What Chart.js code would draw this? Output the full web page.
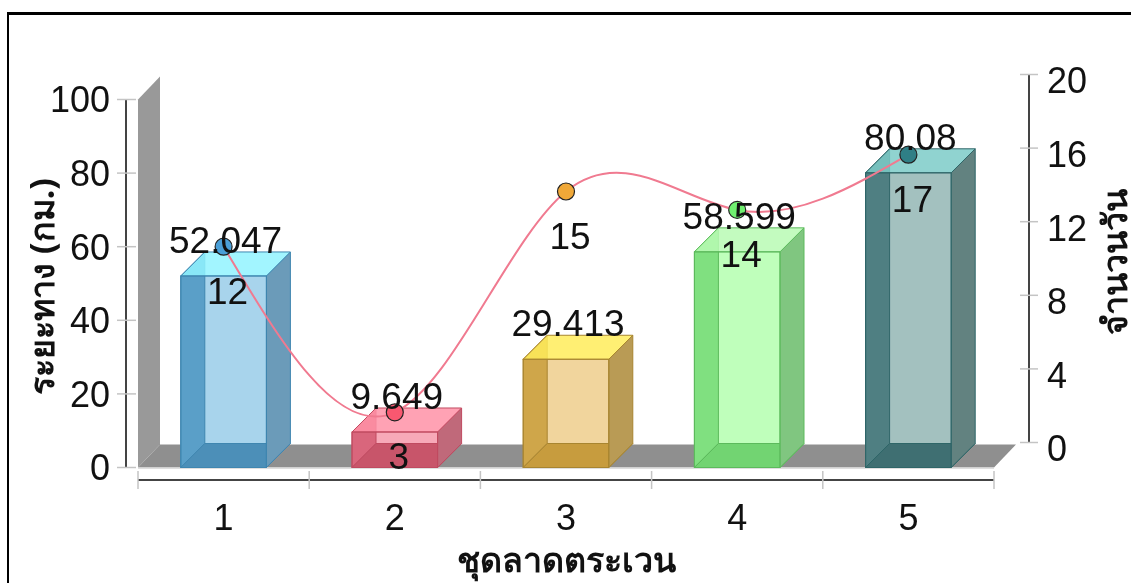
<!DOCTYPE html>
<html>
<head>
<meta charset="utf-8">
<script src="https://cdn.jsdelivr.net/npm/chart.js@4"></script>
<style>
html, body { margin: 0; padding: 0; background: #fff; overflow: hidden; }
#wrap { position: relative; width: 1131px; height: 583px; }
#frame { position: absolute; left: 7px; top: 12px; right: 0; bottom: -5px; border: 2px solid #000; border-top-width: 3px; border-right: 0; border-bottom: 0; }
canvas { position: absolute; left: 0; top: 0; }
</style>
</head>
<body>
<div id="wrap">
<div id="frame"></div>
<canvas id="chart" width="1131" height="583"></canvas>
</div>
<script>
var categories = ["1", "2", "3", "4", "5"];
var distanceValues = [52.047, 9.649, 29.413, 58.599, 80.08];
var dayValues = [12, 3, 15, 14, 17];
var distanceLabels = ["52.047", "9.649", "29.413", "58.599", "80.08"];

var backColors = ["#a8d4ec", "#f7a9b8", "#f1d59d", "#bfffbb", "#a3c1bf"];
var leftColors = ["#5a9fc8", "#d9667c", "#cfa64a", "#80e080", "#4f7f82"];
var floorColors = ["#4c8fb8", "#c8556a", "#c79c3e", "#72d472", "#3f6f72"];
var rightColors = ["#6b9bb9", "#c0697a", "#b99b55", "#80c680", "#628280"];
var topColors = ["rgba(146,243,255,0.85)", "rgba(255,146,167,0.85)", "rgba(255,236,90,0.85)", "rgba(185,250,180,0.85)", "rgba(125,203,200,0.85)"];
var edgeColors = ["#3f86b0", "#c04a60", "#a88530", "#5cba5c", "#2f6668"];
var pointColors = ["#4a9fd8", "#f85870", "#f0a838", "#70f070", "#2f7f86"];

var DX = 22;
var DY = 23;
var BAR_DX = 24;
var BAR_DY = 24;
var NUM_FONT = '"Liberation Sans", Arial, sans-serif';
var THAI_FONT = '"Noto Sans", "DejaVu Sans", sans-serif';

function poly(ctx, pts, fill, edge) {
    ctx.beginPath();
    ctx.moveTo(pts[0][0], pts[0][1]);
    for (var i = 1; i < pts.length; i++) ctx.lineTo(pts[i][0], pts[i][1]);
    ctx.closePath();
    ctx.fillStyle = fill;
    ctx.fill();
    if (edge) {
        ctx.strokeStyle = edge;
        ctx.lineWidth = 1;
        ctx.stroke();
    }
}

function hLine(ctx, x1, x2, y, color, w) {
    ctx.beginPath();
    ctx.moveTo(x1, y);
    ctx.lineTo(x2, y);
    ctx.strokeStyle = color;
    ctx.lineWidth = w;
    ctx.stroke();
}

function vLine(ctx, x, y1, y2, color, w) {
    ctx.beginPath();
    ctx.moveTo(x, y1);
    ctx.lineTo(x, y2);
    ctx.strokeStyle = color;
    ctx.lineWidth = w;
    ctx.stroke();
}

function moveScale(s, dy) {
    s.top += dy;
    s.bottom += dy;
    s.configure();
}

// the curve in the picture is a natural cubic spline, chart.js tension can't overshoot like it
function naturalSpline(points) {
    var n = points.length, h = points[1].x - points[0].x;
    var c = [0], d = [0], m = [];
    for (var i = 1; i < n - 1; i++) {
        var rhs = 6 * (points[i - 1].y - 2 * points[i].y + points[i + 1].y) / (h * h);
        var w = 4 - c[i - 1];
        c[i] = 1 / w;
        d[i] = (rhs - d[i - 1]) / w;
    }
    m[n - 1] = 0;
    for (var j = n - 2; j > 0; j--) m[j] = d[j] - c[j] * m[j + 1];
    m[0] = 0;
    for (var k = 0; k < n; k++) {
        var slope = k < n - 1
            ? (points[k + 1].y - points[k].y) / h - h * (2 * m[k] + m[k + 1]) / 6
            : (points[k].y - points[k - 1].y) / h + h * (m[k - 1] + 2 * m[k]) / 6;
        points[k].cp1x = points[k].x - h / 3;
        points[k].cp1y = points[k].y - slope * h / 3;
        points[k].cp2x = points[k].x + h / 3;
        points[k].cp2y = points[k].y + slope * h / 3;
    }
}

var box3d = {
    id: "box3d",
    afterLayout: function(chart) {
        // the printed labels do not sit on the plot scales, right axis goes up with the wall
        moveScale(chart.scales.yAxisRight, -16);
        moveScale(chart.scales.yAxisLeft, 3);
    },
    afterDatasetsUpdate: function(chart) {
        var meta = chart.getDatasetMeta(1);
        meta.dataset.updateControlPoints(chart.chartArea);
        naturalSpline(meta.data);
    },
    beforeDatasetsDraw: function(chart) {
        var ctx = chart.ctx, a = chart.chartArea;
        var y = chart.scales.y, r = chart.scales.yDays;
        ctx.save();
        poly(ctx, [[a.left, a.top], [a.left + DX, a.top - DY], [a.left + DX, a.bottom - DY], [a.left, a.bottom]], "#999999");
        poly(ctx, [[a.left, a.bottom], [a.left + DX, a.bottom - DY], [a.right + DX, a.bottom - DY], [a.right, a.bottom]], "#8f8f8f");
        hLine(ctx, a.left, a.right, a.bottom + 0.5, "#d4d4d4", 1.5);

        // left axis
        vLine(ctx, 126, y.getPixelForValue(100), y.getPixelForValue(0), "#444", 2);
        y.ticks.forEach(function(t) {
            hLine(ctx, 117, 136, y.getPixelForValue(t.value), "#c4c4c4", 1.5);
        });

        // bottom axis
        hLine(ctx, a.left, a.right, 480, "#444", 2);
        var step = a.width / categories.length;
        for (var i = 0; i <= categories.length; i++) {
            vLine(ctx, a.left + i * step, 471, 489, "#c4c4c4", 1.5);
        }

        // right axis
        var top = r.getPixelForValue(20) - DY - 2, bottom = r.getPixelForValue(0) - DY - 2;
        vLine(ctx, 1029, top, bottom, "#444", 2);
        r.ticks.forEach(function(t) {
            hLine(ctx, 1020, 1038, r.getPixelForValue(t.value) - DY - 2, "#c4c4c4", 1.5);
        });
        ctx.restore();
    },
    afterDatasetDraw: function(chart, args) {
        if (args.index !== 0) return;
        var ctx = chart.ctx;
        ctx.save();
        args.meta.data.forEach(function(bar, i) {
            var x0 = bar.x - bar.width / 2, x1 = bar.x + bar.width / 2;
            var top = bar.y, base = bar.base;
            poly(ctx, [[x0, top], [x0 + BAR_DX, top - BAR_DY], [x0 + BAR_DX, base - BAR_DY], [x0, base]], leftColors[i], edgeColors[i]);
            poly(ctx, [[x0, base], [x1, base], [x1 + BAR_DX, base - BAR_DY], [x0 + BAR_DX, base - BAR_DY]], floorColors[i], edgeColors[i]);
            poly(ctx, [[x1, top], [x1 + BAR_DX, top - BAR_DY], [x1 + BAR_DX, base - BAR_DY], [x1, base]], rightColors[i], edgeColors[i]);
            poly(ctx, [[x0, top], [x1, top], [x1 + BAR_DX, top - BAR_DY], [x0 + BAR_DX, top - BAR_DY]], topColors[i], edgeColors[i]);
            ctx.strokeStyle = edgeColors[i];
            ctx.lineWidth = 1;
            ctx.strokeRect(x0, top, bar.width, base - top);
        });
        ctx.restore();
    },
    afterDatasetsDraw: function(chart) {
        var ctx = chart.ctx;
        ctx.save();
        ctx.fillStyle = "#111";
        ctx.font = "37px " + NUM_FONT;
        ctx.textAlign = "center";
        ctx.textBaseline = "alphabetic";
        chart.getDatasetMeta(0).data.forEach(function(bar, i) {
            ctx.fillText(distanceLabels[i], bar.x + 2, bar.y - 23);
        });
        chart.getDatasetMeta(1).data.forEach(function(pt, i) {
            ctx.fillText(String(dayValues[i]), pt.x + 4, pt.y + 57);
        });

        // chart.js always turns a right axis title clockwise, this one reads upward
        ctx.translate(1117, 262);
        ctx.rotate(-Math.PI / 2);
        ctx.font = "bold 34px " + THAI_FONT;
        ctx.textBaseline = "middle";
        ctx.fillText("จำนวนวัน", 0, 0);
        ctx.restore();
    }
};

var chart = new Chart(document.getElementById("chart"), {
    type: "bar",
    data: {
        labels: categories,
        datasets: [{
            type: "bar",
            label: "ระยะทาง (กม.)",
            data: distanceValues,
            yAxisID: "y",
            backgroundColor: backColors,
            borderWidth: 0,
            barPercentage: 0.5,
            categoryPercentage: 1,
            order: 2
        }, {
            type: "line",
            label: "จำนวนวัน",
            data: dayValues,
            yAxisID: "yDays",
            borderColor: "#f07a90",
            borderWidth: 2,
            tension: 0.4,
            fill: false,
            pointRadius: 8.5,
            pointBackgroundColor: pointColors,
            pointBorderColor: "#222",
            pointBorderWidth: 1.2,
            order: 1
        }]
    },
    options: {
        responsive: false,
        animation: false,
        layout: { padding: { top: 99.5, left: 0, right: 0, bottom: 0 } },
        plugins: { legend: { display: false }, tooltip: { enabled: false } },
        scales: {
            x: {
                offset: true,
                afterFit: function(s) { s.height = 115.5; },
                grid: { display: false, drawTicks: false },
                border: { display: false },
                ticks: { color: "#111", padding: 31, font: { family: NUM_FONT, size: 36 }, maxRotation: 0 },
                title: { display: true, text: "ชุดลาดตระเวน", color: "#111", font: { family: THAI_FONT, size: 34, weight: "bold" }, padding: { top: 0, bottom: 0 } }
            },
            y: {
                min: 0,
                max: 100,
                display: false,
                ticks: { stepSize: 20 }
            },
            yAxisLeft: {
                position: "left",
                min: 0,
                max: 100,
                afterFit: function(s) { s.width = 138; },
                grid: { display: false, drawTicks: false },
                border: { display: false },
                ticks: { stepSize: 20, color: "#111", padding: 28, font: { family: NUM_FONT, size: 36 } },
                title: { display: true, text: "ระยะทาง (กม.)", color: "#111", font: { family: THAI_FONT, size: 34, weight: "bold" }, padding: { top: 24, bottom: 0 } }
            },
            yDays: {
                min: 0,
                max: 20,
                display: false,
                ticks: { stepSize: 4 }
            },
            yAxisRight: {
                position: "right",
                min: 0,
                max: 20,
                afterFit: function(s) { s.width = 137; },
                grid: { display: false, drawTicks: false },
                border: { display: false },
                ticks: { stepSize: 4, color: "#111", padding: 53, font: { family: NUM_FONT, size: 36 } }
            }
        }
    },
    plugins: [box3d]
});
</script>
</body>
</html>
